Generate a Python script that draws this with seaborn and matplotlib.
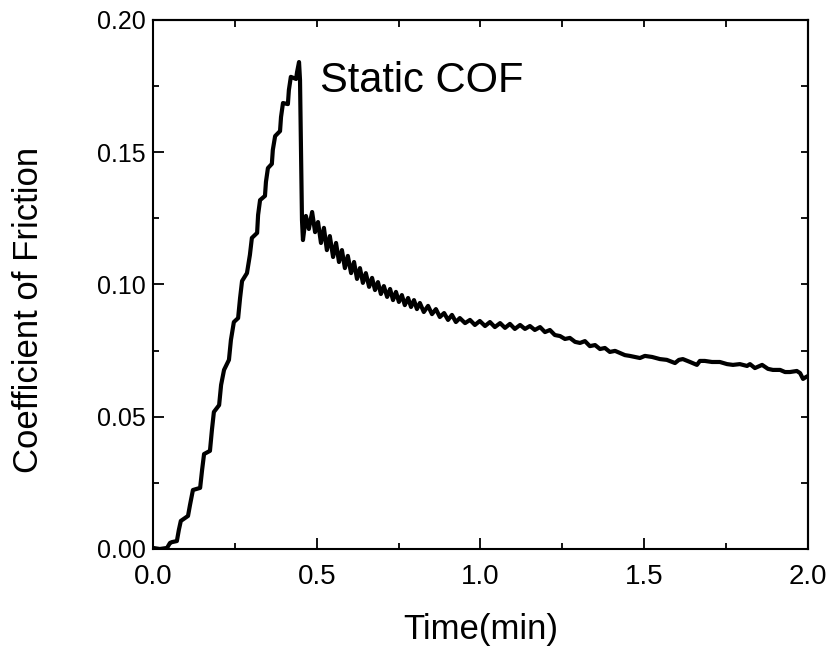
import matplotlib
matplotlib.use("Agg")
import matplotlib.pyplot as plt
from matplotlib.ticker import MultipleLocator
import seaborn as sns
import pandas as pd

# rising part (stick phase)
rise_time = [0.000, 0.021, 0.043, 0.052, 0.058, 0.073, 0.079, 0.085, 0.107, 0.113,
             0.122, 0.144, 0.150, 0.156, 0.174, 0.180, 0.186, 0.202, 0.208, 0.217,
             0.232, 0.238, 0.247, 0.260, 0.266, 0.272, 0.287, 0.296, 0.302, 0.318,
             0.321, 0.327, 0.342, 0.345, 0.351, 0.363, 0.366, 0.373, 0.388, 0.391,
             0.397, 0.412, 0.415, 0.421, 0.437, 0.440, 0.446, 0.449, 0.452, 0.455]
rise_cof = [0.0004, 0.0000, 0.0004, 0.0023, 0.0026, 0.0030, 0.0072, 0.0106, 0.0125, 0.0166,
            0.0223, 0.0231, 0.0299, 0.0359, 0.0371, 0.0450, 0.0518, 0.0544, 0.0620, 0.0677,
            0.0715, 0.0790, 0.0858, 0.0873, 0.0949, 0.1013, 0.1043, 0.1112, 0.1176, 0.1195,
            0.1263, 0.1319, 0.1335, 0.1388, 0.1440, 0.1456, 0.1509, 0.1561, 0.1580, 0.1633,
            0.1686, 0.1682, 0.1735, 0.1785, 0.1777, 0.1803, 0.1841, 0.1773, 0.1509, 0.1244]

# sliding part after the static peak
slide_time = [0.458, 0.467, 0.476, 0.486, 0.495, 0.504, 0.513, 0.522, 0.531, 0.540,
              0.550, 0.559, 0.568, 0.577, 0.586, 0.595, 0.605, 0.614, 0.623, 0.632,
              0.641, 0.650, 0.660, 0.669, 0.678, 0.687, 0.696, 0.705, 0.715, 0.724,
              0.733, 0.742, 0.751, 0.760, 0.769, 0.779, 0.788, 0.797, 0.806, 0.815,
              0.827, 0.840, 0.852, 0.864, 0.876, 0.889, 0.901, 0.913, 0.925, 0.937,
              0.953, 0.968, 0.983, 0.998, 1.014, 1.029, 1.044, 1.060, 1.075, 1.090,
              1.105, 1.121, 1.136, 1.151, 1.166, 1.182, 1.197, 1.212, 1.227, 1.243,
              1.258, 1.273, 1.289, 1.304, 1.319, 1.334, 1.350, 1.365, 1.380, 1.395,
              1.411, 1.426, 1.441, 1.456, 1.487, 1.502, 1.524, 1.548, 1.569, 1.594,
              1.606, 1.618, 1.640, 1.661, 1.670, 1.685, 1.707, 1.731, 1.753, 1.771,
              1.792, 1.814, 1.823, 1.838, 1.860, 1.878, 1.893, 1.915, 1.930, 1.945,
              1.966, 1.976, 1.985, 1.994, 2.000]
slide_cof = [0.1168, 0.1259, 0.1210, 0.1274, 0.1198, 0.1236, 0.1157, 0.1214, 0.1130, 0.1183,
             0.1104, 0.1157, 0.1085, 0.1130, 0.1062, 0.1108, 0.1043, 0.1085, 0.1021, 0.1062,
             0.1006, 0.1043, 0.0991, 0.1025, 0.0979, 0.1009, 0.0964, 0.0994, 0.0953, 0.0983,
             0.0941, 0.0972, 0.0934, 0.0960, 0.0922, 0.0949, 0.0915, 0.0941, 0.0907, 0.0930,
             0.0896, 0.0919, 0.0888, 0.0907, 0.0877, 0.0892, 0.0866, 0.0885, 0.0858, 0.0873,
             0.0854, 0.0866, 0.0847, 0.0862, 0.0843, 0.0858, 0.0839, 0.0854, 0.0836, 0.0851,
             0.0832, 0.0847, 0.0832, 0.0843, 0.0828, 0.0839, 0.0820, 0.0828, 0.0809, 0.0805,
             0.0794, 0.0798, 0.0783, 0.0779, 0.0786, 0.0767, 0.0771, 0.0756, 0.0760, 0.0745,
             0.0749, 0.0741, 0.0733, 0.0730, 0.0722, 0.0730, 0.0726, 0.0718, 0.0715, 0.0703,
             0.0715, 0.0718, 0.0707, 0.0696, 0.0711, 0.0711, 0.0707, 0.0707, 0.0699, 0.0696,
             0.0699, 0.0692, 0.0699, 0.0684, 0.0696, 0.0681, 0.0677, 0.0677, 0.0669, 0.0669,
             0.0673, 0.0665, 0.0643, 0.0650, 0.0654]

df = pd.DataFrame({"Time": rise_time + slide_time, "COF": rise_cof + slide_cof})

sns.set_style("ticks")
plt.rcParams['font.family'] = ['Liberation Sans', 'DejaVu Sans']
plt.rcParams['text.color'] = 'black'
plt.rcParams['axes.labelcolor'] = 'black'
plt.rcParams['xtick.color'] = 'black'
plt.rcParams['ytick.color'] = 'black'

fig = plt.figure(figsize=(8.35, 6.49), dpi=100)
ax = fig.add_axes([0.1832, 0.1541, 0.7844, 0.8151])

sns.lineplot(data=df, x="Time", y="COF", ax=ax, color="black", linewidth=3.0,
             sort=False, estimator=None)

ax.text(0.51, 0.1728, "Static COF", fontsize=30, va="baseline", ha="left")

ax.set_xlim(0, 2.0)
ax.set_ylim(0, 0.20)
ax.xaxis.set_major_locator(MultipleLocator(0.5))
ax.xaxis.set_minor_locator(MultipleLocator(0.25))
ax.yaxis.set_major_locator(MultipleLocator(0.05))
ax.yaxis.set_minor_locator(MultipleLocator(0.025))
ax.xaxis.set_major_formatter(lambda v, p: f"{v:.1f}")
ax.yaxis.set_major_formatter(lambda v, p: f"{v:.2f}")

ax.tick_params(which="major", direction="in", length=8, width=1.3, color="black")
ax.tick_params(which="minor", direction="in", length=4.5, width=1.3, color="black")
ax.tick_params(axis="x", which="major", labelsize=20, pad=10.5)
ax.tick_params(axis="y", which="major", labelsize=18, pad=5)

# top and right: short ticks at every quarter step, no labels
top = ax.secondary_xaxis("top")
top.xaxis.set_major_locator(MultipleLocator(0.25))
top.tick_params(direction="in", length=5, width=1.3, labeltop=False)
right = ax.secondary_yaxis("right")
right.yaxis.set_major_locator(MultipleLocator(0.025))
right.tick_params(direction="in", length=5, width=1.3, labelright=False)

for a in (ax, top, right):
    for s in a.spines.values():
        s.set_linewidth(1.5)
        s.set_color("black")

ax.set_xlabel("Time(min)", fontsize=25, labelpad=17)
ax.set_ylabel("Coefficient of Friction", fontsize=25)
ax.yaxis.set_label_coords(-0.165, 0.452)

fig.savefig("out.png", dpi=100)
